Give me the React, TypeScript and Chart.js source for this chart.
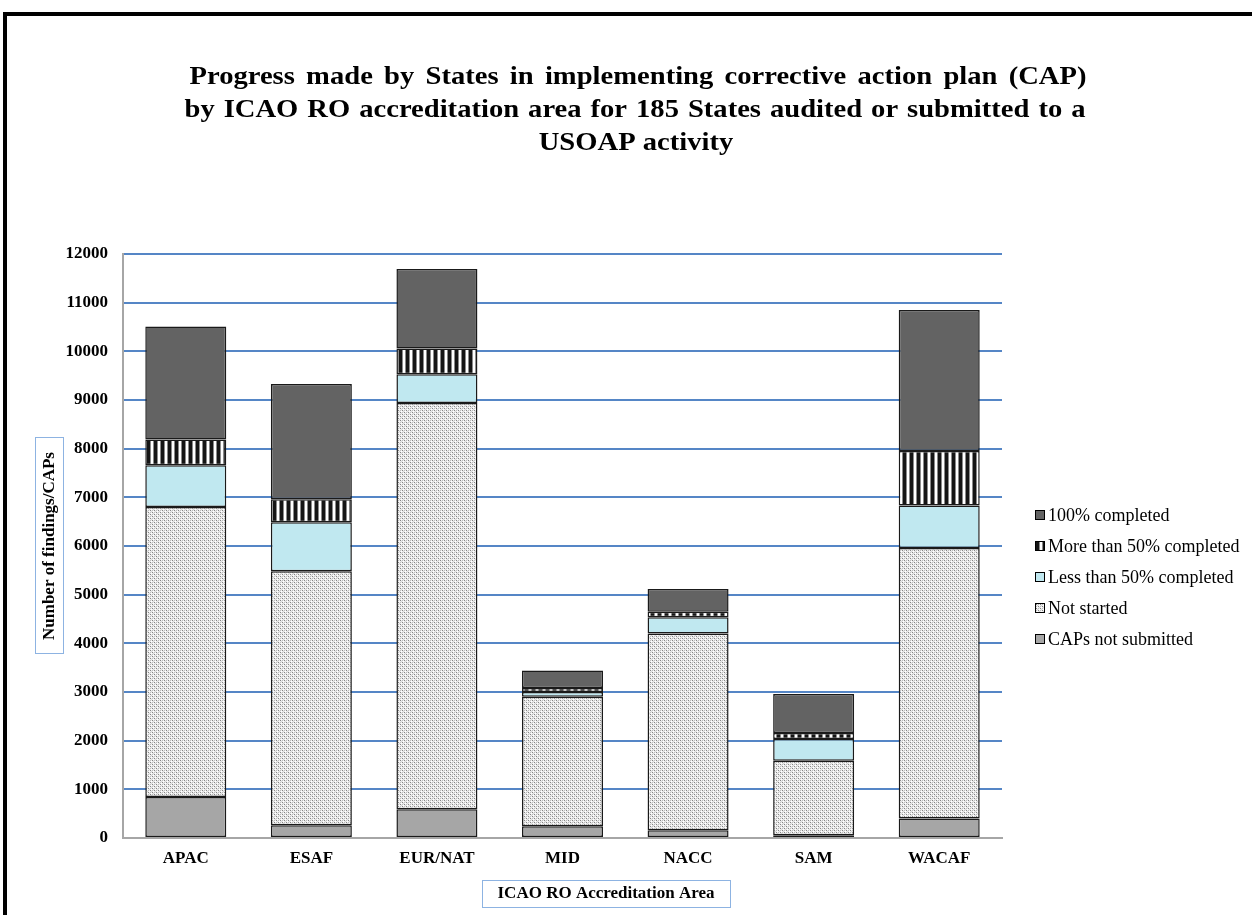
import React, { useEffect, useRef } from 'react';
import { Chart, registerables } from 'chart.js';

Chart.register(...registerables);

const categories = ['APAC', 'ESAF', 'EUR/NAT', 'MID', 'NACC', 'SAM', 'WACAF'];
const capsNotSubmitted = [840, 260, 590, 240, 160, 55, 400];
const notStarted = [5960, 5220, 8350, 2660, 4040, 1530, 5560];
const lessThan50 = [860, 1010, 590, 100, 335, 450, 870];
const moreThan50 = [530, 470, 530, 80, 115, 125, 1120];
const completed100 = [2320, 2370, 1630, 360, 465, 800, 2900];
const seriesLabels = [
  'CAPs not submitted',
  'Not started',
  'Less than 50% completed',
  'More than 50% completed',
  '100% completed',
];
const titleLines = [
  'Progress made by States in implementing corrective action plan (CAP)',
  'by ICAO RO accreditation area for 185 States audited or submitted to a',
  'USOAP activity',
];
const yAxisTitle = 'Number of findings/CAPs';
const xAxisTitle = 'ICAO RO Accreditation Area';
const yMax = 12000;
const yStep = 1000;

const SERIF = '"Liberation Serif", "Times New Roman", "DejaVu Serif", serif';

function tile(w: number, h: number, draw: (c: CanvasRenderingContext2D) => void) {
  const cv = document.createElement('canvas');
  cv.width = w;
  cv.height = h;
  const c = cv.getContext('2d')!;
  draw(c);
  return cv;
}

function makePatterns(ctx: CanvasRenderingContext2D) {
  const dots = tile(4, 4, (c) => {
    c.fillStyle = '#eeeeee';
    c.fillRect(0, 0, 4, 4);
    const px = (x: number, y: number, col: string) => {
      c.fillStyle = col;
      c.fillRect(x, y, 1, 1);
    };
    px(0, 0, '#858585');
    px(2, 0, '#bdbdbd');
    px(1, 1, '#d8d8d8');
    px(3, 1, '#ffffff');
    px(2, 2, '#858585');
    px(0, 2, '#bdbdbd');
    px(1, 3, '#ffffff');
    px(3, 3, '#d8d8d8');
  });
  const stripes = tile(7, 1, (c) => {
    c.fillStyle = '#ffffff';
    c.fillRect(0, 0, 7, 1);
    c.fillStyle = '#151515';
    c.fillRect(0, 0, 3, 1);
    c.fillStyle = '#8a8a8a';
    c.fillRect(3, 0, 1, 1);
    c.fillRect(6, 0, 1, 1);
  });
  return {
    caps: '#a6a6a6',
    notStarted: ctx.createPattern(dots, 'repeat')!,
    less: '#c0e8f0',
    more: ctx.createPattern(stripes, 'repeat')!,
    full: '#636363',
  };
}

// title line geometry: [centre x, target width]
const titleFit = [
  [638, 897],
  [635, 901],
  [636, 191],
];

export default function App() {
  const ref = useRef<HTMLCanvasElement>(null);

  useEffect(() => {
    const canvas = ref.current!;
    const ctx = canvas.getContext('2d')!;
    const p = makePatterns(ctx);
    const fills = [p.caps, p.notStarted, p.less, p.more, p.full];
    const values = [capsNotSubmitted, notStarted, lessThan50, moreThan50, completed100];

    const decor = {
      id: 'decor',
      beforeDraw(chart: any) {
        const c = chart.ctx as CanvasRenderingContext2D;
        c.save();
        c.fillStyle = '#ffffff';
        c.fillRect(0, 0, chart.width, chart.height);
        c.fillStyle = '#000000';
        c.fillRect(3, 12, chart.width - 3, 4);
        c.fillRect(3, 12, 4, chart.height - 12);
        c.restore();
      },
      afterDraw(chart: any) {
        const c = chart.ctx as CanvasRenderingContext2D;
        c.save();
        // title, words spread to the reference line widths
        c.fillStyle = '#000';
        c.textBaseline = 'middle';
        c.textAlign = 'left';
        c.font = `bold 26px ${SERIF}`;
        const sx = 1.1;
        const space = c.measureText(' ').width;
        titleLines.forEach((t, i) => {
          const [cx, target] = titleFit[i];
          const words = t.split(' ');
          const widths = words.map((w) => c.measureText(w).width);
          const total = widths.reduce((a, b) => a + b, 0);
          const n = words.length - 1;
          let gap = n > 0 ? (target / sx - total) / n : 0;
          if (n > 0 && gap < space) gap = space;
          const inner = total + gap * n;
          c.save();
          c.translate(cx, 77 + i * 33);
          c.scale(sx, 1);
          let x = -inner / 2;
          words.forEach((w, j) => {
            c.fillText(w, x, 0);
            x += widths[j] + gap;
          });
          c.restore();
        });

        c.textAlign = 'center';
        // y axis title box
        c.strokeStyle = '#8db3e2';
        c.lineWidth = 1;
        c.strokeRect(35.5, 437.5, 28, 216);
        c.save();
        c.translate(50, 546);
        c.rotate(-Math.PI / 2);
        c.font = `bold 17px ${SERIF}`;
        c.fillText(yAxisTitle, 0, 0);
        c.restore();

        // x axis title box
        c.strokeRect(482.5, 880.5, 248, 27);
        c.font = `bold 17px ${SERIF}`;
        c.fillText(xAxisTitle, 606, 894);

        // legend
        c.textAlign = 'left';
        c.font = `18px ${SERIF}`;
        const ds = chart.data.datasets;
        for (let k = 0; k < ds.length; k++) {
          const d = ds[ds.length - 1 - k];
          const y = 515 + k * 31;
          c.fillStyle = d.backgroundColor;
          c.fillRect(1035, y - 5, 10, 10);
          c.strokeStyle = '#000';
          c.lineWidth = 1;
          c.strokeRect(1035.5, y - 4.5, 9, 9);
          c.fillStyle = '#000';
          c.fillText(d.label, 1048, y + 1);
        }
        c.restore();
      },
    };

    const chart = new Chart(ctx, {
      type: 'bar',
      data: {
        labels: categories,
        datasets: seriesLabels.map((label, i) => ({
          label,
          data: values[i],
          backgroundColor: fills[i] as any,
          borderColor: '#1a1a1a',
          borderWidth: 1.5,
          borderSkipped: false,
          categoryPercentage: 1,
          barPercentage: 0.645,
        })),
      },
      options: {
        responsive: false,
        animation: false,
        events: [],
        layout: { padding: { top: 254, right: 250, bottom: 0, left: 0 } },
        plugins: {
          legend: { display: false },
          title: { display: false },
          tooltip: { enabled: false },
        },
        scales: {
          x: {
            stacked: true,
            grid: { display: false, drawTicks: false },
            border: { display: true, color: '#a6a6a6', width: 2 },
            ticks: {
              color: '#000',
              padding: 10,
              font: { family: SERIF, size: 17, weight: 'bold' },
            },
            afterFit(scale: any) {
              scale.height = 77;
            },
          },
          y: {
            stacked: true,
            min: 0,
            max: yMax,
            grid: {
              drawTicks: false,
              lineWidth: 2,
              color: (c: any) => (c.tick && c.tick.value === 0 ? 'rgba(0,0,0,0)' : '#5586c6'),
            },
            border: { display: true, color: '#a6a6a6', width: 2 },
            ticks: {
              stepSize: yStep,
              color: '#000',
              padding: 15,
              font: { family: SERIF, size: 17, weight: 'bold' },
              callback: (v: any) => String(v),
            },
            afterFit(scale: any) {
              scale.width = 123;
            },
          },
        },
      },
      plugins: [decor],
    });
    return () => chart.destroy();
  }, []);

  return (
    <div style={{ position: 'absolute', left: 0, top: 0, width: 1252, height: 915, background: '#fff' }}>
      <canvas ref={ref} width={1252} height={915} style={{ display: 'block', width: 1252, height: 915 }} />
    </div>
  );
}
